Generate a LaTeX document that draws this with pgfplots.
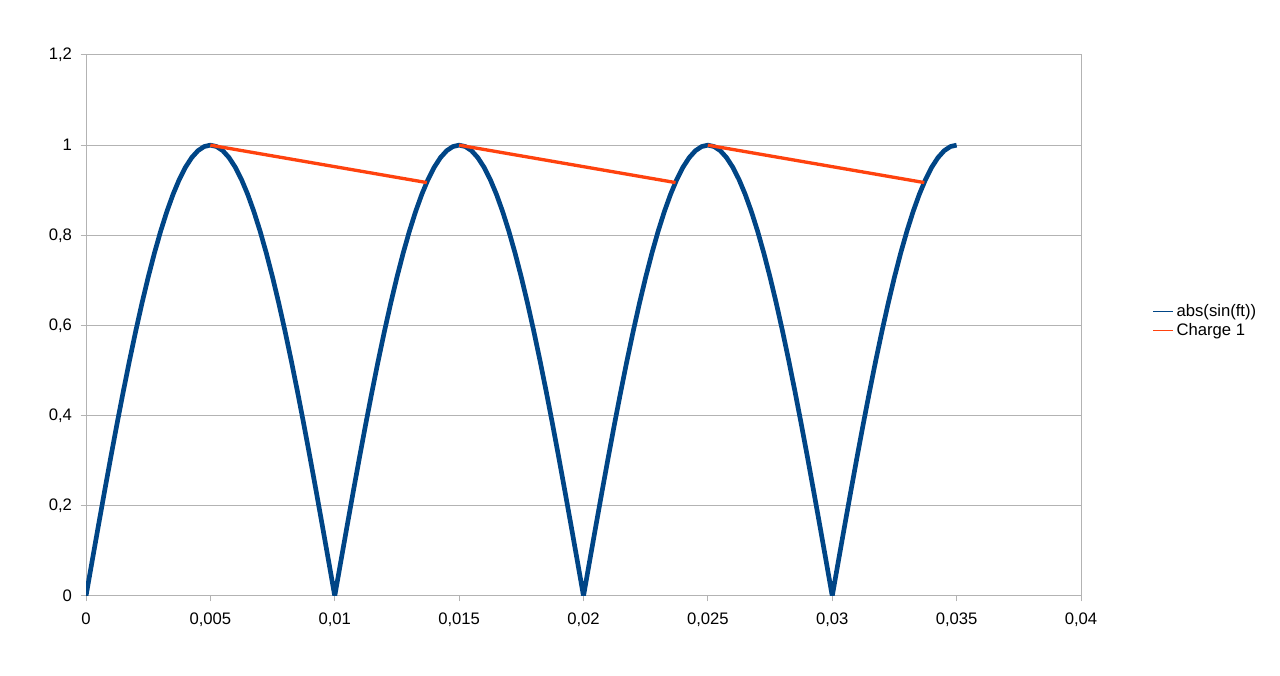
\documentclass[border=0pt]{standalone}
\usepackage{pgfplots}
\pgfplotsset{compat=1.18}
\usepackage{fontspec}
\setmainfont{Liberation Sans}
\definecolor{lblue}{HTML}{004586}
\definecolor{lorange}{HTML}{FF420E}
\definecolor{lgrid}{HTML}{B3B3B3}
\begin{document}
\begin{tikzpicture}
\begin{axis}[
  scale only axis,
  width=746.25pt, height=405.75pt,
  xmin=0, xmax=0.04, ymin=0, ymax=1.2,
  scaled x ticks=false, scaled y ticks=false,
  xtick={0,0.005,0.01,0.015,0.02,0.025,0.03,0.035,0.04},
  xticklabels={0,{0,005},{0,01},{0,015},{0,02},{0,025},{0,03},{0,035},{0,04}},
  ytick={0,0.2,0.4,0.6,0.8,1,1.2},
  yticklabels={0,{0,2},{0,4},{0,6},{0,8},1,{1,2}},
  ymajorgrids, grid style={lgrid, line width=0.75pt},
  axis line style={lgrid, line width=0.75pt},
  tick style={lgrid, line width=0.75pt},
  tick align=outside, major tick length=4pt,
  xtick pos=bottom, ytick pos=left,
  ticklabel style={font=\fontsize{12.5pt}{14pt}\selectfont, text=black},
  xticklabel style={yshift=-5pt},
  yticklabel style={xshift=-3pt},
  unbounded coords=jump,
  legend style={draw=none, fill=none, at={(axis description cs:1.072,0.508)}, anchor=west,
    font=\fontsize{12.5pt}{14pt}\selectfont, row sep=0pt, inner sep=0pt},
  legend cell align=left,
  legend image code/.code={\draw[#1, line width=0.75pt] (0cm,0cm) -- (15pt,0cm);},
]
\addplot[lblue, line width=3.5pt, line join=round] coordinates {
(0.00000,0.0000)(0.00025,0.0785)(0.00050,0.1564)(0.00075,0.2334)(0.00100,0.3090)
(0.00125,0.3827)(0.00150,0.4540)(0.00175,0.5225)(0.00200,0.5878)(0.00225,0.6494)
(0.00250,0.7071)(0.00275,0.7604)(0.00300,0.8090)(0.00325,0.8526)(0.00350,0.8910)
(0.00375,0.9239)(0.00400,0.9511)(0.00425,0.9724)(0.00450,0.9877)(0.00475,0.9969)
(0.00500,1.0000)(0.00525,0.9969)(0.00550,0.9877)(0.00575,0.9724)(0.00600,0.9511)
(0.00625,0.9239)(0.00650,0.8910)(0.00675,0.8526)(0.00700,0.8090)(0.00725,0.7604)
(0.00750,0.7071)(0.00775,0.6494)(0.00800,0.5878)(0.00825,0.5225)(0.00850,0.4540)
(0.00875,0.3827)(0.00900,0.3090)(0.00925,0.2334)(0.00950,0.1564)(0.00975,0.0785)
(0.01000,0.0000)(0.01025,0.0785)(0.01050,0.1564)(0.01075,0.2334)(0.01100,0.3090)
(0.01125,0.3827)(0.01150,0.4540)(0.01175,0.5225)(0.01200,0.5878)(0.01225,0.6494)
(0.01250,0.7071)(0.01275,0.7604)(0.01300,0.8090)(0.01325,0.8526)(0.01350,0.8910)
(0.01375,0.9239)(0.01400,0.9511)(0.01425,0.9724)(0.01450,0.9877)(0.01475,0.9969)
(0.01500,1.0000)(0.01525,0.9969)(0.01550,0.9877)(0.01575,0.9724)(0.01600,0.9511)
(0.01625,0.9239)(0.01650,0.8910)(0.01675,0.8526)(0.01700,0.8090)(0.01725,0.7604)
(0.01750,0.7071)(0.01775,0.6494)(0.01800,0.5878)(0.01825,0.5225)(0.01850,0.4540)
(0.01875,0.3827)(0.01900,0.3090)(0.01925,0.2334)(0.01950,0.1564)(0.01975,0.0785)
(0.02000,0.0000)(0.02025,0.0785)(0.02050,0.1564)(0.02075,0.2334)(0.02100,0.3090)
(0.02125,0.3827)(0.02150,0.4540)(0.02175,0.5225)(0.02200,0.5878)(0.02225,0.6494)
(0.02250,0.7071)(0.02275,0.7604)(0.02300,0.8090)(0.02325,0.8526)(0.02350,0.8910)
(0.02375,0.9239)(0.02400,0.9511)(0.02425,0.9724)(0.02450,0.9877)(0.02475,0.9969)
(0.02500,1.0000)(0.02525,0.9969)(0.02550,0.9877)(0.02575,0.9724)(0.02600,0.9511)
(0.02625,0.9239)(0.02650,0.8910)(0.02675,0.8526)(0.02700,0.8090)(0.02725,0.7604)
(0.02750,0.7071)(0.02775,0.6494)(0.02800,0.5878)(0.02825,0.5225)(0.02850,0.4540)
(0.02875,0.3827)(0.02900,0.3090)(0.02925,0.2334)(0.02950,0.1564)(0.02975,0.0785)
(0.03000,0.0000)(0.03025,0.0785)(0.03050,0.1564)(0.03075,0.2334)(0.03100,0.3090)
(0.03125,0.3827)(0.03150,0.4540)(0.03175,0.5225)(0.03200,0.5878)(0.03225,0.6494)
(0.03250,0.7071)(0.03275,0.7604)(0.03300,0.8090)(0.03325,0.8526)(0.03350,0.8910)
(0.03375,0.9239)(0.03400,0.9511)(0.03425,0.9724)(0.03450,0.9877)(0.03475,0.9969)
(0.03500,1.0000)
};
\addlegendentry{abs(sin(ft))}
\addplot[lorange, line width=2.5pt] coordinates {
(0.0050,1.0000)(0.0137,0.9170)(0.0140,nan)
(0.0150,1.0000)(0.0237,0.9170)(0.0240,nan)
(0.0250,1.0000)(0.0337,0.9170)
};
\addlegendentry{Charge 1}
\end{axis}
\path (current axis.south west) ++(-64.5pt,-60pt) coordinate (bbA);
\path (current axis.north east) ++(149.25pt,41.25pt) coordinate (bbB);
\path[use as bounding box] (bbA) rectangle (bbB);
\end{tikzpicture}
\end{document}
